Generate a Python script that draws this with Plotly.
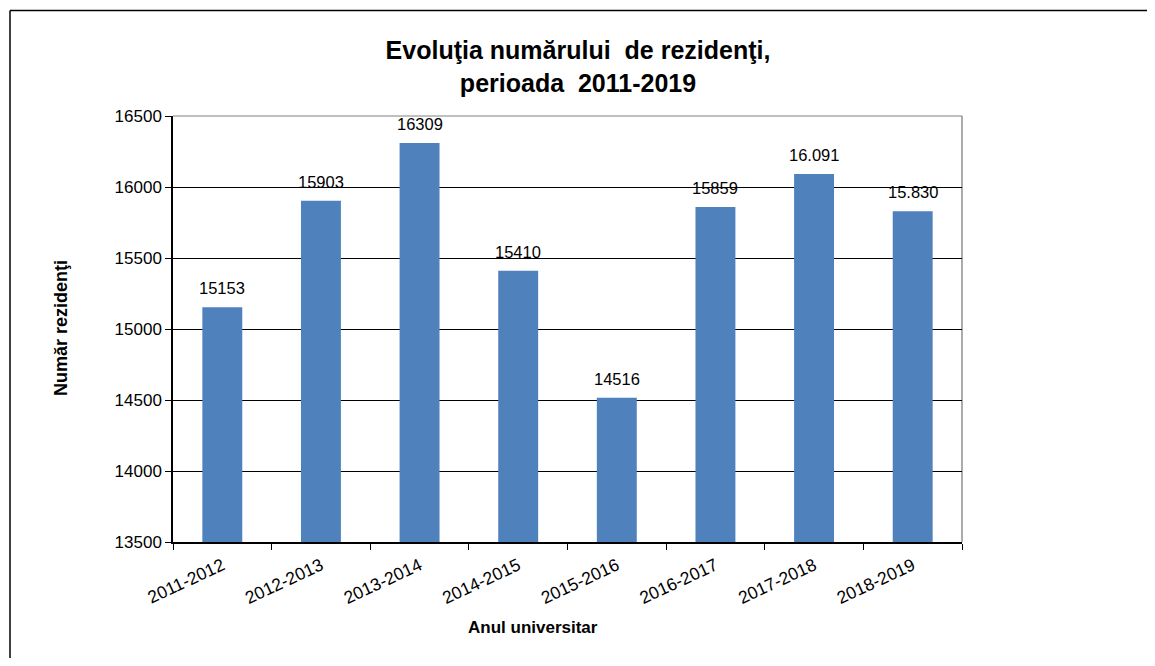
import plotly.graph_objects as go

categories = ["2011-2012", "2012-2013", "2013-2014", "2014-2015",
              "2015-2016", "2016-2017", "2017-2018", "2018-2019"]
values = [15153, 15903, 16309, 15410, 14516, 15859, 16091, 15830]
value_labels = ["15153", "15903", "16309", "15410", "14516", "15859", "16.091", "15.830"]
y_ticks = [13500, 14000, 14500, 15000, 15500, 16000, 16500]

FONT = "Liberation Sans, Arial, sans-serif"
OFF = 8  # page body margin
W, H = 1155 - OFF, 666 - 2 * OFF
ML, MT = 173 - OFF, 116 - OFF
PW, PH = 789, 426
MR = W - ML - PW
MB = H - MT - PH

def px_x(p):  # screen px -> paper
    return (p - OFF - ML) / PW

def px_y(p):
    return (MT + PH - (p - OFF)) / PH

fig = go.Figure()
fig.add_trace(go.Bar(
    x=categories, y=values,
    marker=dict(color="#4F81BD", line=dict(width=0)),
    hoverinfo="x+y",
))

for c, v, t in zip(categories, values, value_labels):
    fig.add_annotation(x=c, y=v, text=t, showarrow=False, yanchor="middle",
                       xanchor="center", yshift=19,
                       font=dict(family=FONT, size=16.5, color="#000"))

# axis titles
fig.add_annotation(xref="paper", yref="paper", x=px_x(533), y=px_y(627),
                   xanchor="center", yanchor="middle",
                   text="<b>Anul universitar</b>", showarrow=False,
                   font=dict(family=FONT, size=17, color="#000"))
fig.add_annotation(xref="paper", yref="paper", x=px_x(61), y=px_y(328),
                   xanchor="center", yanchor="middle",
                   text="<b>Număr rezidenţi</b>", showarrow=False, textangle=-90,
                   font=dict(family=FONT, size=18, color="#000"))

# plot area top and right border (grey)
fig.add_shape(type="line", xref="paper", yref="paper", x0=0, x1=1, y0=1, y1=1,
              line=dict(color="#808080", width=1), layer="below")
fig.add_shape(type="line", xref="paper", yref="paper", x0=1, x1=1, y0=0, y1=1,
              line=dict(color="#909090", width=1.5), layer="below")
# outer chart border: left and top edges only (others are cut off in the reference)
fig.add_shape(type="line", xref="paper", yref="paper",
              x0=px_x(10), x1=px_x(10), y0=px_y(666), y1=px_y(10.5),
              line=dict(color="#000", width=1.5))
fig.add_shape(type="line", xref="paper", yref="paper",
              x0=px_x(10), x1=px_x(1155), y0=px_y(10.5), y1=px_y(10.5),
              line=dict(color="#000", width=1.5))

fig.update_layout(
    width=W, height=H,
    margin=dict(l=ML, r=MR, t=MT, b=MB),
    paper_bgcolor="white", plot_bgcolor="white",
    bargap=0.595,
    showlegend=False,
    title=dict(text="<b>Evoluţia numărului  de rezidenţi,<br>perioada  2011-2019</b>",
               x=(578 - OFF) / W, xanchor="center", y=1 - (59 - OFF) / H, yanchor="middle",
               yref="container",
               font=dict(family=FONT, size=25, color="#000")),
    font=dict(family=FONT, color="#000"),
)
fig.update_xaxes(
    type="category", tickangle=-25,
    tickfont=dict(family=FONT, size=17.5, color="#000"),
    showline=True, linecolor="#000", linewidth=1.5,
    ticks="outside", ticklen=6, tickcolor="#000", tickwidth=1,
    tickson="boundaries", showgrid=False, ticklabelstandoff=5,
)
fig.update_yaxes(
    range=[13500, 16500], tickvals=y_ticks, ticktext=[str(v) for v in y_ticks],
    tickfont=dict(family=FONT, size=17, color="#000"),
    showline=True, linecolor="#000", linewidth=1.5,
    ticks="outside", ticklen=6, tickcolor="#000", tickwidth=1,
    showgrid=True, gridcolor="#000", gridwidth=1, zeroline=False,
)

fig.write_html("out.html", config={"displayModeBar": False})
